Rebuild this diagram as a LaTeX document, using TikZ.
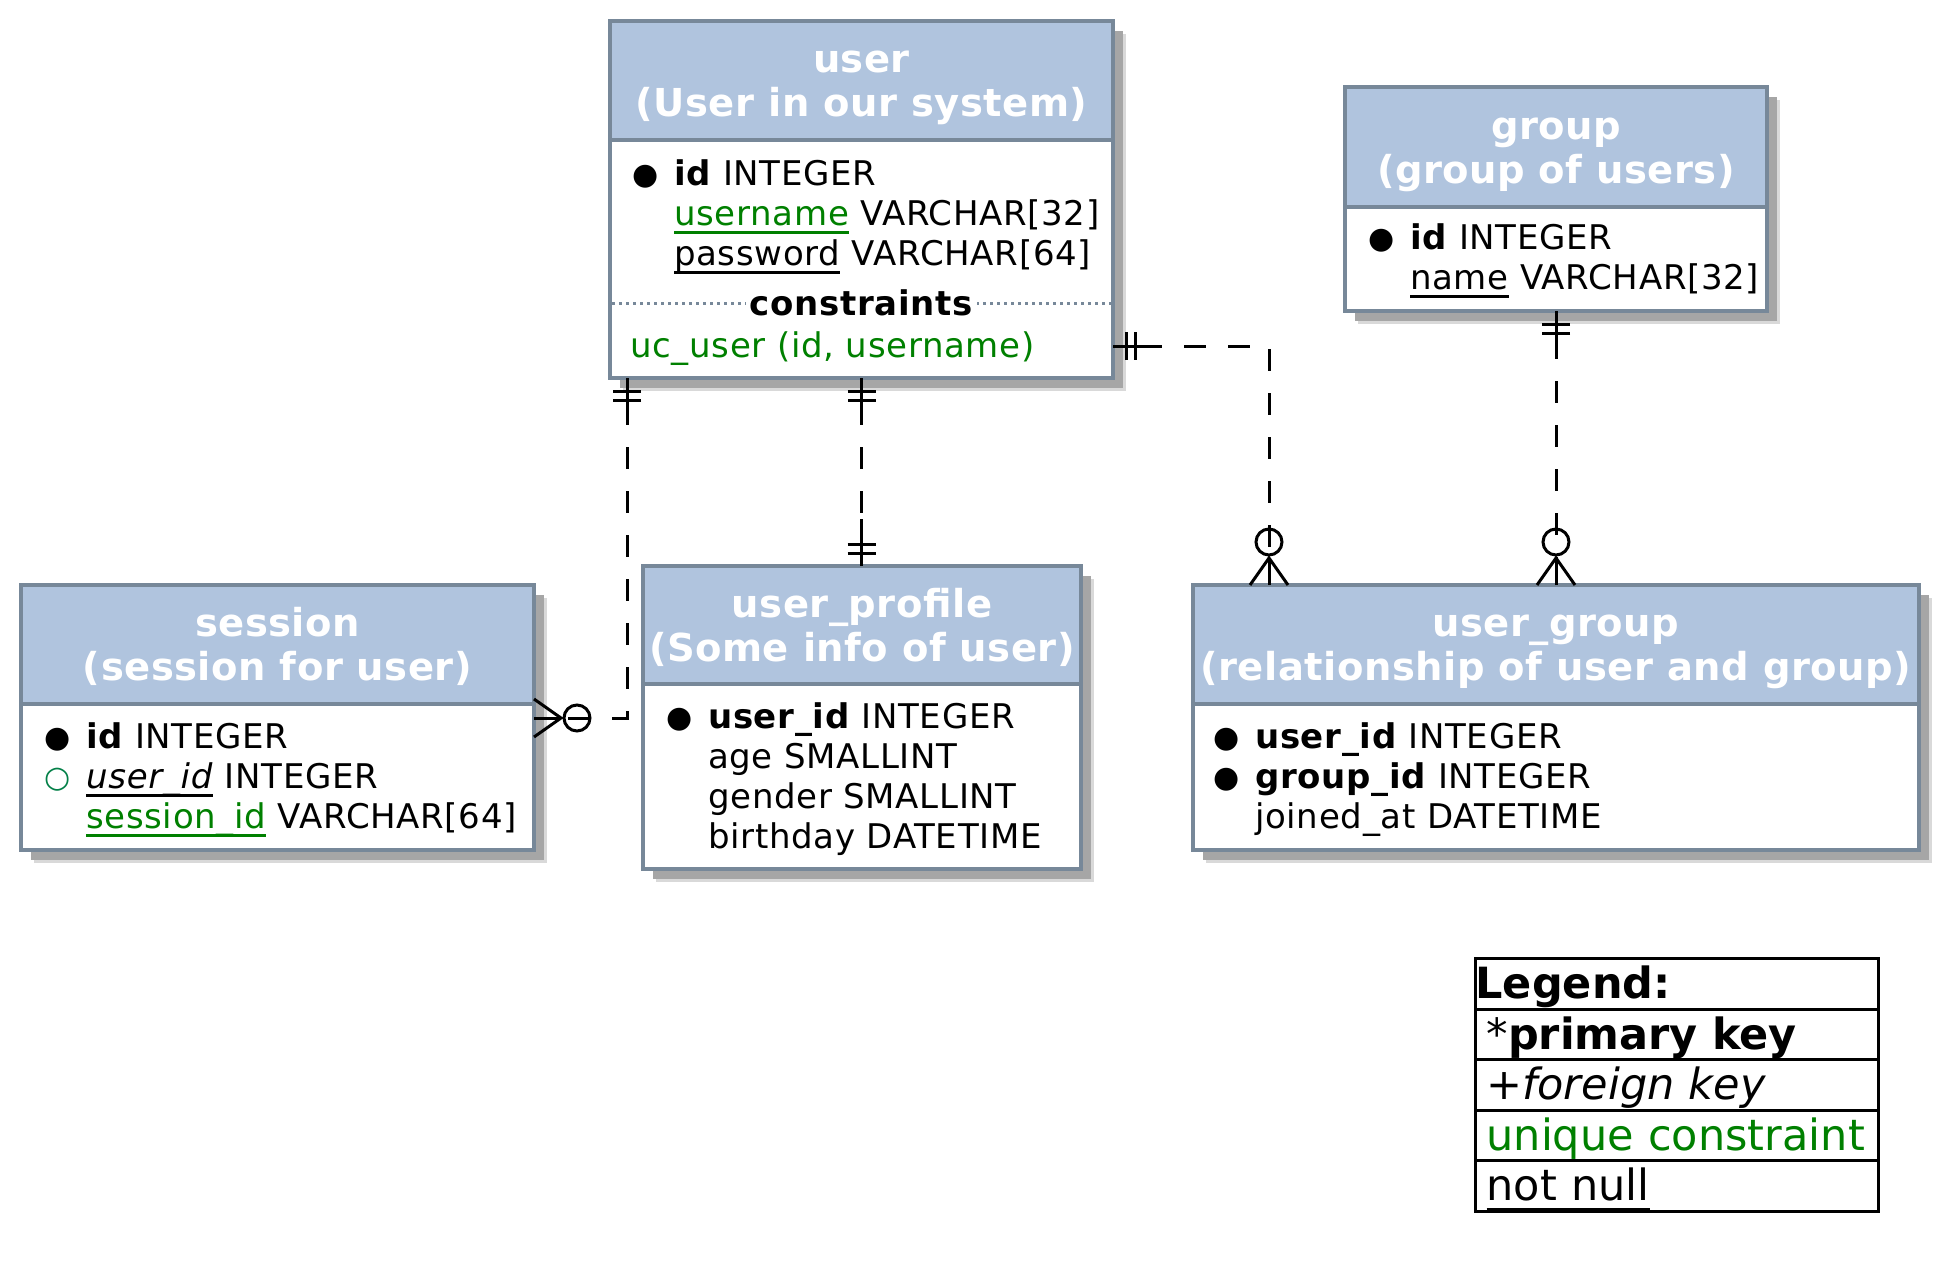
\documentclass[tikz,border=0pt]{standalone}
\usepackage{fontspec}
\setmainfont{DejaVu Sans}
\newfontfamily\hdrfam{DejaVu Sans}[LetterSpace=1.3]
\newfontfamily\fldfam{DejaVu Sans}[LetterSpace=2]
\usetikzlibrary{shadows}
\definecolor{tblhead}{HTML}{B0C4DE}
\definecolor{tblborder}{HTML}{778899}
\definecolor{uqgreen}{HTML}{008000}
\definecolor{fkgreen}{HTML}{038048}
\newcommand\hdrfont{\hdrfam\fontsize{38.5}{44}\selectfont\bfseries}
\newcommand\fldfont{\fldfam\fontsize{34}{40}\selectfont\lineskiplimit=-\maxdimen}
\newcommand\legfont{\fontsize{43}{51}\selectfont}
\newcommand\ttl[2]{\rule{0pt}{38pt}#1\\#2\rule[-10pt]{0pt}{10pt}}
\newcommand\fst{\rule[-10pt]{0pt}{40pt}}
\newcommand\pk{\llap{\makebox[58pt]{\raisebox{1pt}{\fontsize{30}{30}\selectfont●}}}}
\newcommand\fk{\llap{\makebox[58pt]{\raisebox{1pt}{\fontsize{30}{30}\selectfont\color{fkgreen}○}}}}
\newcommand\nnull[1]{\setbox0\hbox{#1}\rlap{\rule[-0.25em]{\wd0}{0.085em}}\box0\relax}
\begin{document}
\begin{tikzpicture}[x=1pt,y=-1pt,
	tbl/.style={draw=tblborder, line width=4pt, inner sep=0pt, outer sep=0pt, anchor=north west,
		drop shadow={shadow xshift=13pt, shadow yshift=-13pt, fill=black!15, opacity=1},
		drop shadow={shadow xshift=10pt, shadow yshift=-10pt, fill=black!35, opacity=1}},
	hdr/.style={tbl, fill=tblhead, text=white, font=\hdrfont, align=center},
	bdy/.style={tbl, fill=white},
	fields/.style={anchor=north west, inner sep=0pt, align=left, font=\fldfont},
	dotsep/.style={draw=tblborder, line width=3pt, dash pattern=on 3pt off 4pt},
	cons/.style={anchor=base, fill=white, inner xsep=4pt, inner ysep=2pt, font=\fldfont\bfseries},
	rel/.style={line width=3pt, dash pattern=on 22pt off 22pt},
	mk/.style={line width=3pt},
	legrow/.style={draw, line width=3pt, anchor=north west, inner sep=0pt, text width=403pt,
		text height=40pt, text depth=10.6pt, font=\legfont},
	one/.pic={\draw (0,0)--(47,0); \draw (13,-14)--(13,14); \draw (22,-14)--(22,14);},
	zeromany/.pic={\draw (0,-19)--(27,0)--(0,19); \draw (0,0)--(27,0); \draw (43,0) circle (13pt);}]
\fill[white] (0,0) rectangle (1960,1280);
\useasboundingbox (0,0) rectangle (1960,1280);

% user
\begin{scope}[shift={(610,21)}]
	\node[hdr, minimum width=503pt, minimum height=119pt] (user-hd) at (0,0) {\ttl{user}{(User in our system)}};
	\node[bdy, minimum width=503pt, minimum height=238pt] (user-bd) at (0,119) {};
	\node[fields] (user-fl) at (64,134) {\fst\pk\textbf{id} INTEGER\\
		{\color{uqgreen}\nnull{username}} VARCHAR[32]\\
		\nnull{password} VARCHAR[64]};
	\draw[dotsep] (2,282)--(501,282);
	\node[cons] (user-cn) at (251.5,294) {constraints};
	\node[fields, text=uqgreen] (user-uc) at (20,306) {\fst uc\_user (id, username)};
\end{scope}

% group
\begin{scope}[shift={(1345,87)}]
	\node[hdr, minimum width=422pt, minimum height=120pt] (group-hd) at (0,0) {\ttl{group}{(group of users)}};
	\node[bdy, minimum width=422pt, minimum height=104pt] (group-bd) at (0,120) {};
	\node[fields] (group-fl) at (65,132) {\fst\pk\textbf{id} INTEGER\\
		\nnull{name} VARCHAR[32]};
\end{scope}

% session
\begin{scope}[shift={(21,585)}]
	\node[hdr, minimum width=513pt, minimum height=119pt] (session-hd) at (0,0) {\ttl{session}{(session for user)}};
	\node[bdy, minimum width=513pt, minimum height=146pt] (session-bd) at (0,119) {};
	\node[fields] (session-fl) at (65,133) {\fst\pk\textbf{id} INTEGER\\
		\fk\nnull{\textit{user\_id}} INTEGER\\
		{\color{uqgreen}\nnull{session\_id}} VARCHAR[64]};
\end{scope}

% user_profile
\begin{scope}[shift={(643,566)}]
	\node[hdr, minimum width=438pt, minimum height=118pt] (profile-hd) at (0,0) {\ttl{user\_profile}{(Some info of user)}};
	\node[bdy, minimum width=438pt, minimum height=185pt] (profile-bd) at (0,118) {};
	\node[fields] (profile-fl) at (65,132) {\fst\pk\textbf{user\_id} INTEGER\\
		age SMALLINT\\
		gender SMALLINT\\
		birthday DATETIME};
\end{scope}

% user_group
\begin{scope}[shift={(1192.5,585)}]
	\node[hdr, minimum width=726.5pt, minimum height=119pt] (ugroup-hd) at (0,0) {\ttl{user\_group}{(relationship of user and group)}};
	\node[bdy, minimum width=726.5pt, minimum height=146pt] (ugroup-bd) at (0,119) {};
	\node[fields] (ugroup-fl) at (62.5,133) {\fst\pk\textbf{user\_id} INTEGER\\
		\pk\textbf{group\_id} INTEGER\\
		joined\_at DATETIME};
\end{scope}

% relations
\coordinate (us-a) at ([xshift=17pt]user-bd.south west);
\coordinate (us-b) at ([yshift=-14pt]session-bd.north east);
\coordinate (ug-a) at ([yshift=-206pt]user-bd.north east);
\coordinate (ug-b) at ([xshift=76.5pt]ugroup-hd.north west);
\coordinate (gg-a) at ([xshift=211pt]group-bd.south west);
\draw[rel, dash phase=19pt] (us-a) |- (us-b);
\draw[rel, dash phase=19pt] (user-bd.south) -- (user-bd.south |- profile-hd.north);
\draw[rel, dash phase=17pt] (ug-a) -| (ug-b);
\draw[rel, dash phase=18pt] (gg-a) -- (gg-a |- ugroup-hd.north);
\pic[mk, rotate=-90] at (us-a) {one};
\pic[mk] at (us-b) {zeromany};
\pic[mk, rotate=-90] at (user-bd.south) {one};
\pic[mk, rotate=90] at (user-bd.south |- profile-hd.north) {one};
\pic[mk] at (ug-a) {one};
\pic[mk, rotate=90] at (ug-b) {zeromany};
\pic[mk, rotate=-90] at (gg-a) {one};
\pic[mk, rotate=90] at (gg-a |- ugroup-hd.north) {zeromany};

% legend
\foreach \txt/\pad [count=\i] in {{\textbf{Legend:}}/0pt, {*\textbf{primary key}}/11pt,
	{+\textit{foreign key}}/11pt, {\color{uqgreen}unique constraint}/11pt, {\nnull{not null}}/11pt}
	\node[legrow] (leg-\i) at (1474,906.4+50.6*\i) {\hspace*{\pad}\txt};
\end{tikzpicture}
\end{document}
